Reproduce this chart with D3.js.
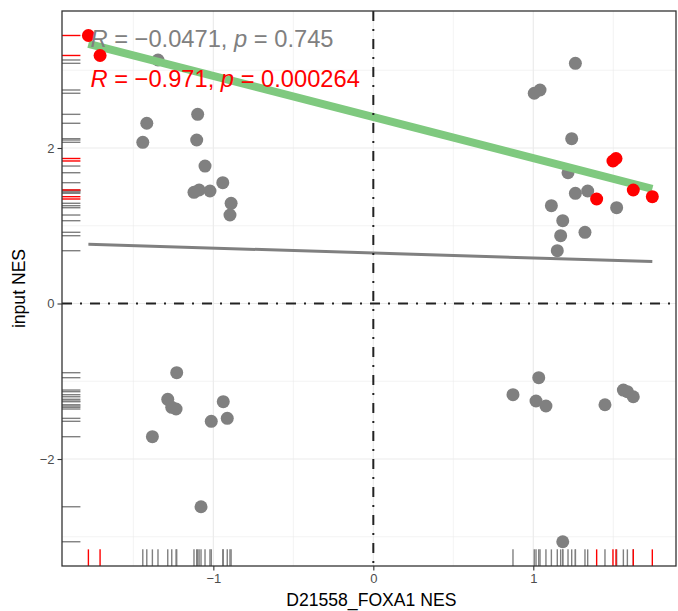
<!DOCTYPE html>
<html>
<head>
<meta charset="utf-8">
<script src="https://cdn.jsdelivr.net/npm/d3@7"></script>
<style>
  body { margin: 0; background: #fff; }
  text { font-family: "Liberation Sans", Arial, sans-serif; }
</style>
</head>
<body>
<div id="chart"></div>
<script>
// grey points (all genes)
const greyX = [-1.416, -1.441, -1.098, -1.104, -1.052, -0.941, -1.121, -1.089, -1.021, -0.889, -0.896, -1.346,
  1.263, 1.006, 1.042, 1.240, 1.217, 1.263, 1.340, 1.521, 1.113, 1.184, 1.171, 1.323, 1.150,
  -1.229, -1.285, -1.260, -1.233, -0.938, -0.913, -1.013, -1.381, -1.077,
  1.034, 0.873, 1.017, 1.079, 1.448, 1.563, 1.588, 1.625, 1.184];
const greyY = [2.318, 2.073, 2.433, 2.103, 1.768, 1.554, 1.430, 1.460, 1.447, 1.289, 1.138, 3.132,
  3.089, 2.704, 2.746, 2.120, 1.682, 1.417, 1.447, 1.232, 1.258, 1.065, 0.872, 0.916, 0.679,
  -0.890, -1.232, -1.335, -1.357, -1.263, -1.477, -1.515, -1.713, -2.614,
  -0.954, -1.173, -1.254, -1.318, -1.302, -1.113, -1.134, -1.199, -3.064];
// highlighted points
const redX = [-1.781, -1.708, 1.498, 1.517, 1.396, 1.625, 1.744];
const redY = [3.447, 3.190, 1.833, 1.865, 1.344, 1.460, 1.374];

const xTicks = [-1, 0, 1];
const yTicks = [-2, 0, 2];
const xMinor = [-1.5, -0.5, 0.5, 1.5];
const yMinor = [-3, -1, 1, 3];
const xDomain = [-1.946, 1.892];
const yDomain = [-3.376, 3.762];

const allLabel = ["−0.0471", "0.745"];
const redLabel = ["−0.971", "0.000264"];

const WIDTH = 678, HEIGHT = 611;
const MARGIN = { left: 62, top: 11, right: 2, bottom: 45 };
const W = WIDTH - MARGIN.left - MARGIN.right;
const H = HEIGHT - MARGIN.top - MARGIN.bottom;

const svg = d3.select("#chart").append("svg")
  .attr("width", WIDTH).attr("height", HEIGHT);
const g = svg.append("g")
  .attr("transform", "translate(" + MARGIN.left + "," + MARGIN.top + ")");

const x = d3.scaleLinear().domain(xDomain).range([0, W]);
const y = d3.scaleLinear().domain(yDomain).range([H, 0]);

// grid
g.selectAll(".minor-x").data(xMinor).enter().append("line")
  .attr("x1", d => x(d)).attr("x2", d => x(d)).attr("y1", 0).attr("y2", H)
  .attr("stroke", "#ebebeb").attr("stroke-width", 0.6);
g.selectAll(".minor-y").data(yMinor).enter().append("line")
  .attr("y1", d => y(d)).attr("y2", d => y(d)).attr("x1", 0).attr("x2", W)
  .attr("stroke", "#ebebeb").attr("stroke-width", 0.6);
g.selectAll(".major-x").data(xTicks).enter().append("line")
  .attr("x1", d => x(d)).attr("x2", d => x(d)).attr("y1", 0).attr("y2", H)
  .attr("stroke", "#ebebeb").attr("stroke-width", 1.2);
g.selectAll(".major-y").data(yTicks).enter().append("line")
  .attr("y1", d => y(d)).attr("y2", d => y(d)).attr("x1", 0).attr("x2", W)
  .attr("stroke", "#ebebeb").attr("stroke-width", 1.2);

const grey = greyX.map((d, i) => ({ x: d, y: greyY[i] }));
const red = redX.map((d, i) => ({ x: d, y: redY[i] }));
const all = grey.concat(red);

// rugs
const rugX = H * 0.03, rugY = W * 0.03;
function rug(data, color) {
  g.append("g").selectAll("line").data(data).enter().append("line")
    .attr("x1", d => x(d.x)).attr("x2", d => x(d.x))
    .attr("y1", H).attr("y2", H - rugX)
    .attr("stroke", color).attr("stroke-width", 1.4);
  g.append("g").selectAll("line").data(data).enter().append("line")
    .attr("y1", d => y(d.y)).attr("y2", d => y(d.y))
    .attr("x1", 0).attr("x2", rugY)
    .attr("stroke", color).attr("stroke-width", 1.4);
}
rug(grey, "#808080");
rug(red, "#ff0000");

// grey points
g.append("g").selectAll("circle").data(grey).enter().append("circle")
  .attr("cx", d => x(d.x)).attr("cy", d => y(d.y)).attr("r", 6.5)
  .attr("fill", "#808080");

// least squares fit
function fit(data) {
  const mx = d3.mean(data, d => d.x), my = d3.mean(data, d => d.y);
  const b = d3.sum(data, d => (d.x - mx) * (d.y - my)) / d3.sum(data, d => (d.x - mx) ** 2);
  const ext = d3.extent(data, d => d.x);
  return ext.map(v => ({ x: v, y: my + b * (v - mx) }));
}
const line = d3.line().x(d => x(d.x)).y(d => y(d.y));
g.append("path").datum(fit(all)).attr("d", line)
  .attr("fill", "none").attr("stroke", "#808080").attr("stroke-width", 3);
g.append("path").datum(fit(red)).attr("d", line)
  .attr("fill", "none").attr("stroke", "#7fc97f").attr("stroke-width", 8);

// red points
g.append("g").selectAll("circle").data(red).enter().append("circle")
  .attr("cx", d => x(d.x)).attr("cy", d => y(d.y)).attr("r", 6.5)
  .attr("fill", "#ff0000");

// reference lines at zero
g.append("line").attr("x1", 0).attr("x2", W).attr("y1", y(0)).attr("y2", y(0))
  .attr("stroke", "#222").attr("stroke-width", 2).attr("stroke-dasharray", "10,8,2,8");
g.append("line").attr("x1", x(0)).attr("x2", x(0)).attr("y1", 0).attr("y2", H)
  .attr("stroke", "#222").attr("stroke-width", 2).attr("stroke-dasharray", "10,8,2,8");

// correlation labels
function corLabel(vals, color, yPos) {
  const t = g.append("text").attr("x", x(-1.768)).attr("y", yPos)
    .attr("fill", color).style("font-size", "23.7px");
  t.append("tspan").style("font-style", "italic").text("R");
  t.append("tspan").text(" = " + vals[0] + ", ");
  t.append("tspan").style("font-style", "italic").text("p");
  t.append("tspan").text(" = " + vals[1]);
}
corLabel(allLabel, "#808080", 35.5);
corLabel(redLabel, "#ff0000", 76);

// panel border
g.append("rect").attr("width", W).attr("height", H)
  .attr("fill", "none").attr("stroke", "#333").attr("stroke-width", 1.3);

// axes
const xAxis = g.append("g").attr("transform", "translate(0," + H + ")")
  .call(d3.axisBottom(x).tickValues(xTicks).tickSize(4.5).tickPadding(3)
    .tickFormat(d => d < 0 ? "−" + Math.abs(d) : d));
const yAxis = g.append("g")
  .call(d3.axisLeft(y).tickValues(yTicks).tickSize(4.5).tickPadding(3)
    .tickFormat(d => d < 0 ? "−" + Math.abs(d) : d));
[xAxis, yAxis].forEach(a => {
  a.select(".domain").remove();
  a.selectAll(".tick line").attr("stroke", "#333").attr("stroke-width", 1.1);
  a.selectAll(".tick text").attr("fill", "#4d4d4d")
    .style("font-size", "13px").style("font-family", "Liberation Sans, Arial, sans-serif");
});

// axis titles
svg.append("text").attr("x", MARGIN.left + x(0) - 2).attr("y", 606)
  .attr("text-anchor", "middle").style("font-size", "17.6px").text("D21558_FOXA1 NES");
svg.append("text").attr("transform", "translate(25," + (MARGIN.top + H / 2) + ") rotate(-90)")
  .attr("text-anchor", "middle").style("font-size", "17.6px").text("input NES");
</script>
</body>
</html>
